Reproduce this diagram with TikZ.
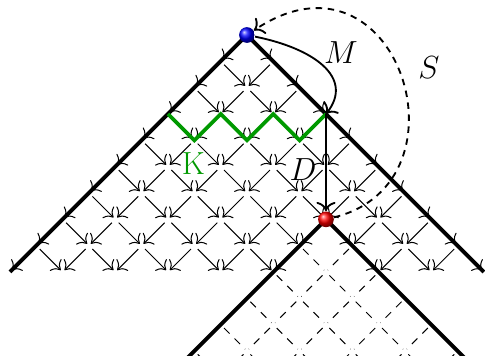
\documentclass[tikz,border=0pt]{standalone}
\usepackage{xcolor}
\usepackage{tikz}
\usetikzlibrary{arrows.meta}

\begin{document}
\begin{tikzpicture}[
    x=0.5cm, y=0.5cm,
    event/.style={circle, shading=ball, minimum size=8.5pt, inner sep=0pt},
    flow/.style={-{To[scale=1.5]}, line width=0.55pt, shorten <=2.6pt, shorten >=1.4pt},
    ghost/.style={line width=0.55pt, dash pattern=on 4.2pt off 3.8pt, shorten <=2.6pt, shorten >=1.4pt},
    coneline/.style={line width=2.1pt},
    kline/.style={line width=2pt, color=green!60!black},
    link/.style={-{To[scale=1.3]}, line width=1pt},
    lbl/.style={font=\LARGE}
]
    \useasboundingbox (-9.38,-12.19) rectangle (9.04,1.33);
    \clip (-9.38,-12.19) rectangle (9.04,1.33);

    % causal arrows, dashed inside the future of the red event
    \foreach \b in {0,...,12} {
        \foreach \k in {0,...,\b} {
            \pgfmathtruncatemacro\a{2*\k-\b}
            \foreach \s in {-1,1} {
                \pgfmathtruncatemacro\inside{abs(\a+0.5*(\s)-3) < \b-6.5}
                \ifnum\inside=1
                    \draw[ghost] (\a,-\b) -- ++(\s,-1);
                \else
                    \ifnum\b<9 \draw[flow] (\a,-\b) -- ++(\s,-1); \fi
                \fi
            }
        }
    }

    % light cones
    \draw[coneline] (-9,-9) -- (0,0) -- (9,-9);
    \draw[coneline] (-2.5,-12.5) -- (3,-7) -- (8.5,-12.5);

    \coordinate (kend) at (3,-3);
    \draw[kline] (-3,-3) -- (-2,-4) -- (-1,-3) -- (0,-4) -- (1,-3) -- (2,-4) -- (kend);

    \node[event, ball color=blue] (apex) at (0,0) {};
    \node[event, ball color=red] (event) at (3,-7) {};

    \draw[link] (apex) .. controls (2.5,-0.5) and (4.1,-1.6) .. (kend);
    \draw[link] (kend) -- (event);
    \draw[link, dash pattern=on 3.5pt off 3pt] (event) .. controls (8.7,-5.6) and (5.7,3.8) .. (apex);

    \node[lbl] (mlabel) at (3.57,-0.66) {$M$};
    \node[lbl] (slabel) at (6.91,-1.23) {$S$};
    \node[lbl] (dlabel) at (2.13,-5.1) {$D$};
    \node[lbl, text=green!60!black] (klabel) at (-2.04,-4.9) {K};
\end{tikzpicture}
\end{document}
